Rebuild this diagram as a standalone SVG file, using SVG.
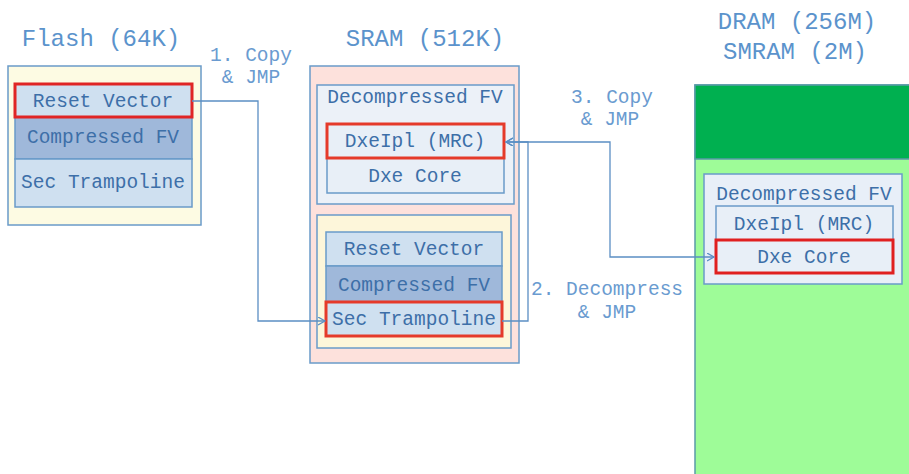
<svg xmlns="http://www.w3.org/2000/svg" width="909" height="474" viewBox="0 0 909 474">
<style>
.t{font-family:"Liberation Mono","Courier New",monospace;text-anchor:middle}
.title{font-size:24px;fill:#5b93cc}
.lbl{font-size:19.5px;fill:#3d6fa8}
.step{font-size:19.5px;fill:#6a9bd0}
.box{stroke:#6a9bc9;stroke-width:1.5}
.red{fill:none;stroke:#e53a2a;stroke-width:3}
.conn{fill:none;stroke:#5b8ec4;stroke-width:1.3}
</style>
<defs>
<marker id="ah" markerWidth="10" markerHeight="10" refX="7" refY="4" orient="auto-start-reverse" markerUnits="userSpaceOnUse">
<path d="M0,0 L7,4 L0,8" fill="none" stroke="#5b8ec4" stroke-width="1.3"/>
</marker>
</defs>
<rect width="909" height="474" fill="#ffffff"/>

<text class="t title" x="101" y="46">Flash (64K)</text>
<text class="t title" x="425" y="46">SRAM (512K)</text>
<text class="t title" x="797" y="29">DRAM (256M)</text>
<text class="t title" x="795" y="59">SMRAM (2M)</text>

<g id="flash">
<rect class="box" x="8" y="66" width="193" height="159" fill="#fdfbe3"/>
<rect class="box" x="15" y="84" width="177" height="33" fill="#cfe0f0"/>
<rect class="box" x="15" y="117" width="177" height="42" fill="#9fb8da"/>
<rect class="box" x="15" y="159" width="177" height="48" fill="#cfe0f0"/>
<rect class="red" x="15" y="84" width="177" height="33" style="stroke:#e02525"/>
<text class="t lbl" x="103" y="107">Reset Vector</text>
<text class="t lbl" x="103" y="143">Compressed FV</text>
<text class="t lbl" x="103" y="188">Sec Trampoline</text>
</g>

<g id="sram">
<rect class="box" x="310" y="66" width="209" height="297" fill="#fde1dc"/>
<g id="sram-decompressed">
<rect class="box" x="317" y="85" width="197" height="119" fill="#ecf1f8"/>
<rect class="box" x="327" y="124" width="177" height="34" fill="#e8eff7"/>
<rect class="box" x="327" y="158" width="177" height="35" fill="#e8eff7"/>
<rect class="red" x="327" y="124" width="177" height="34"/>
<text class="t lbl" x="415" y="103">Decompressed FV</text>
<text class="t lbl" x="415" y="147">DxeIpl (MRC)</text>
<text class="t lbl" x="415" y="182">Dxe Core</text>
</g>
<g id="sram-flashcopy">
<rect class="box" x="317" y="215" width="194" height="133" fill="#fdf6da"/>
<rect class="box" x="326" y="232" width="176" height="34" fill="#cfe0f0"/>
<rect class="box" x="326" y="266" width="176" height="36" fill="#9fb8da"/>
<rect class="box" x="326" y="302" width="176" height="34" fill="#cfe0f0"/>
<rect class="red" x="326" y="302" width="176" height="34"/>
<text class="t lbl" x="414" y="255">Reset Vector</text>
<text class="t lbl" x="414" y="291">Compressed FV</text>
<text class="t lbl" x="414" y="325">Sec Trampoline</text>
</g>
</g>

<g id="dram">
<rect x="695" y="85" width="230" height="400" fill="#9efc98" stroke="#5a9aa8" stroke-width="1.5"/>
<rect x="695" y="85" width="230" height="74" fill="#00b050" stroke="#5a9aa8" stroke-width="1.5"/>
<g id="dram-decompressed">
<rect class="box" x="704" y="174" width="198" height="110" fill="#e8eff8"/>
<rect class="box" x="716" y="206" width="177" height="34" fill="#e8eff7"/>
<rect class="box" x="716" y="240" width="177" height="33" fill="#e8eff7"/>
<rect class="red" x="716" y="240" width="177" height="33" style="stroke:#e02020"/>
<text class="t lbl" x="804" y="200">Decompressed FV</text>
<text class="t lbl" x="804" y="230">DxeIpl (MRC)</text>
<text class="t lbl" x="804" y="263">Dxe Core</text>
</g>
</g>

<g id="connectors">
<path class="conn" d="M192,101 H258 V321 H325" marker-end="url(#ah)"/>
<path class="conn" d="M502,321 H528 V142 H506" marker-end="url(#ah)"/>
<path class="conn" d="M506,142 H610 V257 H714" marker-start="url(#ah)" marker-end="url(#ah)"/>
</g>

<g id="labels">
<text class="t step" x="251" y="61">1. Copy</text>
<text class="t step" x="251" y="83">&amp; JMP</text>
<text class="t step" x="612" y="103">3. Copy</text>
<text class="t step" x="610" y="125">&amp; JMP</text>
<text class="t step" x="607" y="295">2. Decompress</text>
<text class="t step" x="607" y="318">&amp; JMP</text>
</g>
</svg>
